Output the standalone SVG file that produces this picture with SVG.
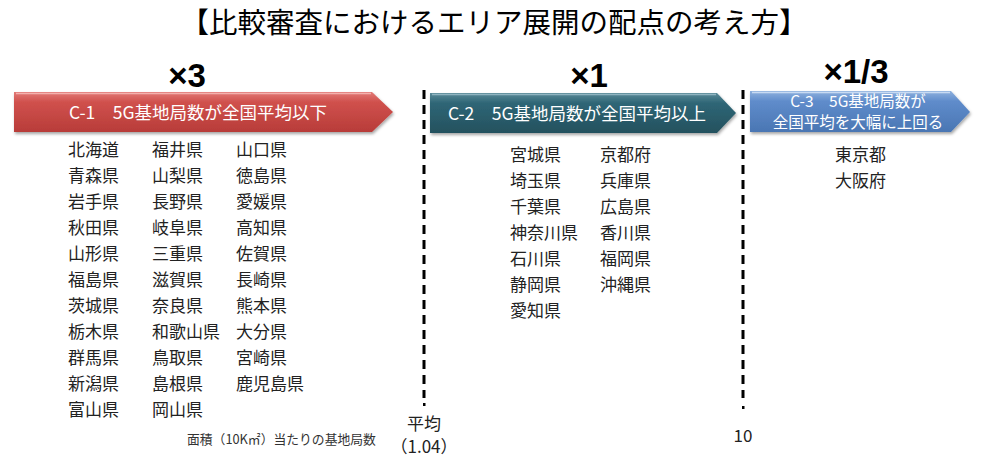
<svg xmlns="http://www.w3.org/2000/svg" width="988" height="462" viewBox="0 0 988 462">
<defs>
<linearGradient id="gRed" x1="0" y1="0" x2="0" y2="1">
<stop offset="0" stop-color="#e27a77"/><stop offset="0.25" stop-color="#d0514d"/><stop offset="1" stop-color="#b83c39"/>
</linearGradient>
<linearGradient id="gTeal" x1="0" y1="0" x2="0" y2="1">
<stop offset="0" stop-color="#5a8a98"/><stop offset="0.25" stop-color="#2f6676"/><stop offset="1" stop-color="#24515e"/>
</linearGradient>
<linearGradient id="gBlue" x1="0" y1="0" x2="0" y2="1">
<stop offset="0" stop-color="#8fb1de"/><stop offset="0.25" stop-color="#5f8ccb"/><stop offset="1" stop-color="#4a76b3"/>
</linearGradient>
<filter id="sh" x="-5%" y="-20%" width="110%" height="150%">
<feDropShadow dx="1" dy="2" stdDeviation="1.5" flood-color="#000" flood-opacity="0.35"/>
</filter>
</defs>
<style>
text{font-family:"Noto Sans CJK JP","Noto Sans",sans-serif}
.title{font-size:28.5px;fill:#000}
.mul{font-size:33px;font-weight:bold;fill:#000;font-family:"Liberation Sans","Noto Sans CJK JP",sans-serif}
.lab{font-size:17.5px;fill:#fff}
.lab3{font-size:15.5px;fill:#fff}
.pref{font-size:17px;fill:#222}
.foot{font-size:12.8px;fill:#333}
.avg{font-size:17px;fill:#222}
.dash{stroke:#000;stroke-width:3;stroke-dasharray:9 6;fill:none}
</style>
<text class="title" x="494" y="33" text-anchor="middle">【比較審査におけるエリア展開の配点の考え方】</text>

<g id="c1">
<path d="M14,92 H372 L393,112 L372,132 H14 Z" fill="url(#gRed)" filter="url(#sh)"/>
<path d="M16,93.5 H371" stroke="#f3b1ae" stroke-width="1.5"/>
<text class="mul" x="187" y="87" text-anchor="middle">×3</text>
<text class="lab" x="198" y="119" text-anchor="middle">C-1　5G基地局数が全国平均以下</text>
</g>

<g id="c2">
<path d="M430,93 H717 L736,113 L717,133 H430 Z" fill="url(#gTeal)" filter="url(#sh)"/>
<path d="M432,94.5 H716" stroke="#8fb4c0" stroke-width="1.5"/>
<text class="mul" x="589" y="87" text-anchor="middle">×1</text>
<text class="lab" x="577" y="120" text-anchor="middle">C-2　5G基地局数が全国平均以上</text>
</g>

<g id="c3">
<path d="M750,91 H951 L970,112 L951,132 H750 Z" fill="url(#gBlue)" filter="url(#sh)"/>
<path d="M752,92.5 H950" stroke="#c8daf2" stroke-width="1.5"/>
<text class="mul" x="856" y="83" text-anchor="middle">×1/3</text>
<text class="lab3" x="858" y="107" text-anchor="middle">C-3　5G基地局数が</text>
<text class="lab3" x="858" y="128" text-anchor="middle">全国平均を大幅に上回る</text>
</g>

<g id="connectors">
<line class="dash" x1="424" y1="90" x2="424" y2="398"/>
<line class="dash" x1="743" y1="90" x2="743" y2="398"/>
<rect x="423" y="403" width="2.5" height="3" fill="#000"/>
<rect x="742" y="406" width="2.5" height="3" fill="#000"/>
</g>

<g id="list1">
<text class="pref" x="68" y="156">北海道</text>
<text class="pref" x="68" y="182">青森県</text>
<text class="pref" x="68" y="208">岩手県</text>
<text class="pref" x="68" y="234">秋田県</text>
<text class="pref" x="68" y="260">山形県</text>
<text class="pref" x="68" y="286">福島県</text>
<text class="pref" x="68" y="312">茨城県</text>
<text class="pref" x="68" y="338">栃木県</text>
<text class="pref" x="68" y="364">群馬県</text>
<text class="pref" x="68" y="390">新潟県</text>
<text class="pref" x="68" y="416">富山県</text>
<text class="pref" x="152" y="156">福井県</text>
<text class="pref" x="152" y="182">山梨県</text>
<text class="pref" x="152" y="208">長野県</text>
<text class="pref" x="152" y="234">岐阜県</text>
<text class="pref" x="152" y="260">三重県</text>
<text class="pref" x="152" y="286">滋賀県</text>
<text class="pref" x="152" y="312">奈良県</text>
<text class="pref" x="152" y="338">和歌山県</text>
<text class="pref" x="152" y="364">鳥取県</text>
<text class="pref" x="152" y="390">島根県</text>
<text class="pref" x="152" y="416">岡山県</text>
<text class="pref" x="236" y="156">山口県</text>
<text class="pref" x="236" y="182">徳島県</text>
<text class="pref" x="236" y="208">愛媛県</text>
<text class="pref" x="236" y="234">高知県</text>
<text class="pref" x="236" y="260">佐賀県</text>
<text class="pref" x="236" y="286">長崎県</text>
<text class="pref" x="236" y="312">熊本県</text>
<text class="pref" x="236" y="338">大分県</text>
<text class="pref" x="236" y="364">宮崎県</text>
<text class="pref" x="236" y="390">鹿児島県</text>
</g>

<g id="list2">
<text class="pref" x="510" y="161">宮城県</text>
<text class="pref" x="510" y="187">埼玉県</text>
<text class="pref" x="510" y="213">千葉県</text>
<text class="pref" x="510" y="239">神奈川県</text>
<text class="pref" x="510" y="265">石川県</text>
<text class="pref" x="510" y="291">静岡県</text>
<text class="pref" x="510" y="317">愛知県</text>
<text class="pref" x="600" y="161">京都府</text>
<text class="pref" x="600" y="187">兵庫県</text>
<text class="pref" x="600" y="213">広島県</text>
<text class="pref" x="600" y="239">香川県</text>
<text class="pref" x="600" y="265">福岡県</text>
<text class="pref" x="600" y="291">沖縄県</text>
</g>

<g id="list3">
<text class="pref" x="835" y="161">東京都</text>
<text class="pref" x="835" y="187">大阪府</text>
</g>

<g id="axis">
<text class="foot" x="187" y="444">面積（10K㎡）当たりの基地局数</text>
<text class="avg" x="424" y="430" text-anchor="middle">平均</text>
<text class="avg" x="424" y="453" text-anchor="middle">（1.04）</text>
<text class="avg" x="743" y="442" text-anchor="middle">10</text>
</g>
</svg>
